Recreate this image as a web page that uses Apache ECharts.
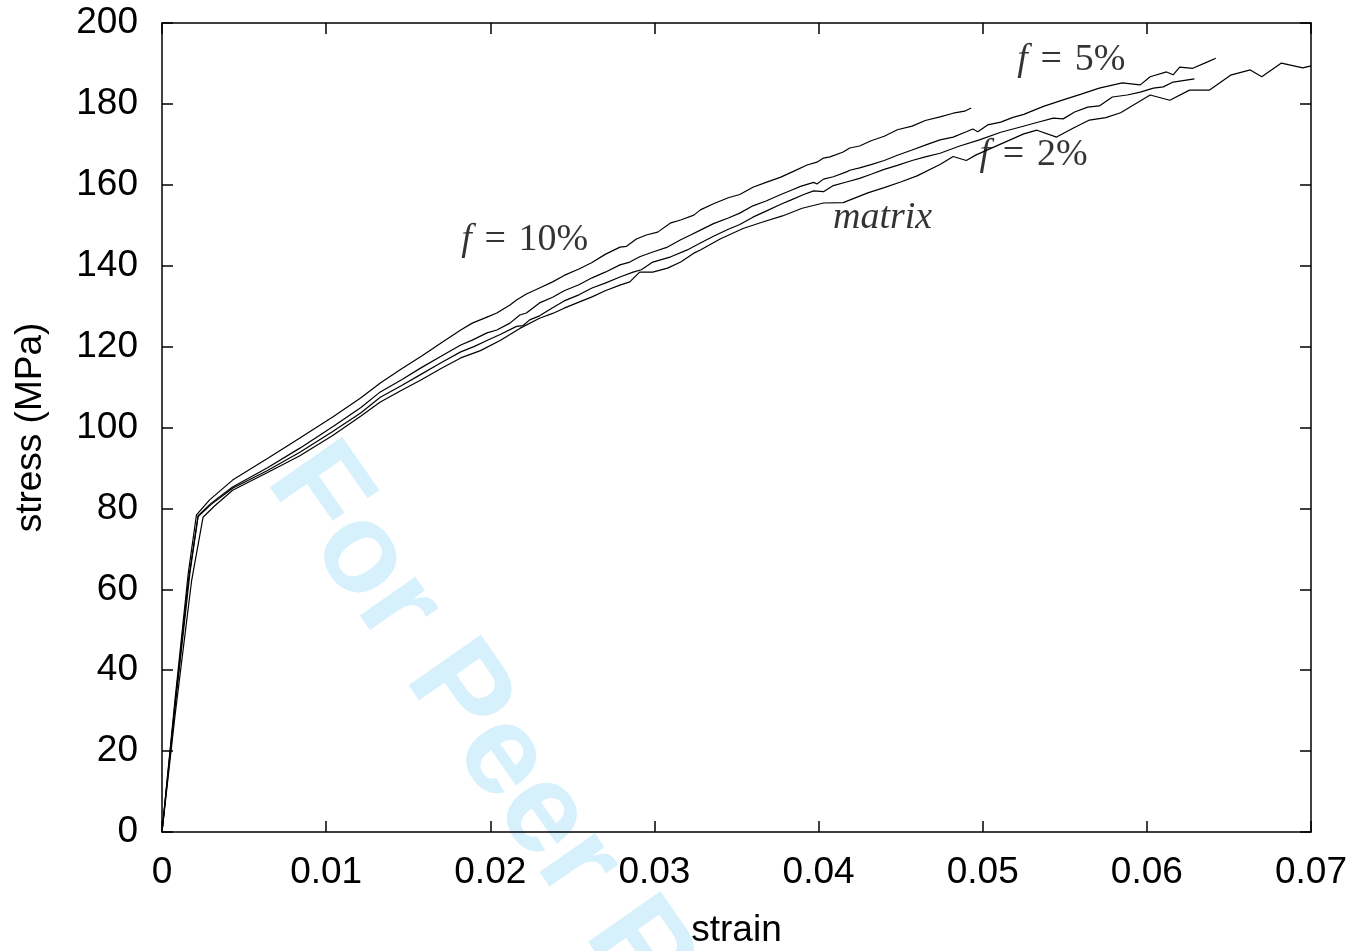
<!DOCTYPE html>
<html>
<head>
<meta charset="utf-8">
<script src="https://cdn.jsdelivr.net/npm/echarts@6/dist/echarts.min.js"></script>
<style>html,body{margin:0;padding:0;background:#fff;}#c{width:1365px;height:951px;}</style>
</head>
<body>
<div id="c"></div>
<script>
// strain ticks / stress ticks
var xTicks = [0, 0.01, 0.02, 0.03, 0.04, 0.05, 0.06, 0.07];
var yTicks = [0, 20, 40, 60, 80, 100, 120, 140, 160, 180, 200];

// f = 10%
var f10 = [[0,0],[0.0008,33],[0.0016,64],[0.0021,78.4],[0.0029,82.1],[0.0043,87.0],[0.0064,92.3],[0.0084,97.4],[0.0104,102.6],[0.0121,107.3],[0.0133,111.0],[0.0146,114.5],[0.0158,117.6],[0.0170,120.9],[0.0182,124.1],[0.0189,125.8],[0.0198,127.3],[0.0204,128.3],[0.0212,130.3],[0.0216,131.5],[0.0222,133.0],[0.0230,134.5],[0.0238,136.0],[0.0245,137.6],[0.0254,139.2],[0.0262,140.8],[0.0270,142.8],[0.0279,144.6],[0.0283,144.8],[0.0289,146.6],[0.0295,147.6],[0.0302,148.3],[0.0310,150.6],[0.0316,151.3],[0.0324,152.5],[0.0328,153.8],[0.0336,155.3],[0.0345,156.8],[0.0352,157.6],[0.0360,159.4],[0.0368,160.6],[0.0377,161.9],[0.0384,163.2],[0.0393,164.9],[0.0399,165.6],[0.0403,166.6],[0.0407,166.9],[0.0415,168.1],[0.0419,169.1],[0.0425,169.6],[0.0432,170.9],[0.0440,172.0],[0.0448,173.6],[0.0457,174.5],[0.0465,175.9],[0.0474,176.8],[0.0482,177.7],[0.0489,178.2],[0.0493,179.0]];

// f = 5%
var f5 = [[0,0],[0.0008,32],[0.0016,62],[0.0022,78.2],[0.0030,81.3],[0.0043,85.3],[0.0064,90.0],[0.0084,94.9],[0.0104,100.2],[0.0121,104.9],[0.0133,108.8],[0.0146,111.8],[0.0158,114.8],[0.0170,117.6],[0.0182,120.4],[0.0189,121.6],[0.0198,123.4],[0.0204,124.1],[0.0212,125.8],[0.0218,127.8],[0.0222,128.3],[0.0230,130.8],[0.0238,132.2],[0.0245,133.8],[0.0254,135.3],[0.0262,137.0],[0.0270,138.4],[0.0279,140.2],[0.0285,140.9],[0.0291,142.2],[0.0299,143.4],[0.0308,144.6],[0.0316,146.4],[0.0322,147.6],[0.0328,148.8],[0.0336,150.4],[0.0345,151.8],[0.0352,153.0],[0.0360,154.8],[0.0368,156.0],[0.0377,157.6],[0.0383,158.6],[0.0389,159.6],[0.0397,160.6],[0.0399,160.2],[0.0403,161.4],[0.0409,162.0],[0.0417,163.2],[0.0419,163.6],[0.0425,164.2],[0.0432,165.0],[0.0440,166.0],[0.0448,167.3],[0.0457,168.6],[0.0465,169.8],[0.0474,171.1],[0.0482,171.8],[0.0490,173.1],[0.0494,173.8],[0.0497,173.1],[0.0503,174.8],[0.0511,175.5],[0.0518,176.6],[0.0525,177.4],[0.0537,179.4],[0.0549,181.0],[0.0560,182.4],[0.0571,183.9],[0.0585,185.2],[0.0596,184.7],[0.0602,186.7],[0.0612,187.9],[0.0616,187.2],[0.0620,189.1],[0.0628,188.8],[0.0637,190.4],[0.0642,191.3]];

// f = 2%
var f2 = [[0,0],[0.0008,31],[0.0017,64],[0.0022,78.0],[0.0030,81.0],[0.0043,85.0],[0.0064,89.3],[0.0084,93.9],[0.0104,99.0],[0.0121,103.6],[0.0133,107.5],[0.0146,110.4],[0.0158,113.2],[0.0170,116.0],[0.0182,118.7],[0.0190,120.0],[0.0198,121.5],[0.0206,123.0],[0.0216,125.0],[0.0220,125.2],[0.0224,126.6],[0.0230,127.6],[0.0238,129.6],[0.0245,131.3],[0.0254,132.8],[0.0262,134.5],[0.0270,135.7],[0.0279,137.2],[0.0287,138.4],[0.0292,139.0],[0.0299,140.9],[0.0310,142.2],[0.0320,143.9],[0.0328,145.6],[0.0336,147.3],[0.0345,149.0],[0.0352,150.2],[0.0360,152.0],[0.0368,153.5],[0.0377,155.2],[0.0383,156.2],[0.0391,157.6],[0.0397,158.5],[0.0403,158.3],[0.0409,159.8],[0.0417,160.7],[0.0425,161.6],[0.0432,162.6],[0.0440,163.8],[0.0448,164.8],[0.0457,166.0],[0.0465,166.9],[0.0474,167.8],[0.0486,169.6],[0.0498,171.1],[0.0511,173.0],[0.0523,174.3],[0.0533,175.4],[0.0543,176.5],[0.0549,176.3],[0.0556,178.0],[0.0564,179.2],[0.0571,179.5],[0.0579,181.7],[0.0588,182.2],[0.0596,182.9],[0.0604,183.9],[0.0610,184.2],[0.0616,185.4],[0.0629,186.2]];

// matrix
var matrix = [[0,0],[0.0008,29],[0.0018,62],[0.0025,77.8],[0.0032,80.6],[0.0043,84.5],[0.0064,88.8],[0.0084,93.0],[0.0104,98.0],[0.0121,102.8],[0.0133,106.3],[0.0146,109.2],[0.0158,111.8],[0.0170,114.6],[0.0182,117.2],[0.0194,119.0],[0.0206,121.5],[0.0218,124.5],[0.0230,127.0],[0.0238,128.2],[0.0245,129.5],[0.0254,131.0],[0.0262,132.3],[0.0270,133.8],[0.0279,135.2],[0.0285,136.0],[0.0291,138.4],[0.0299,138.4],[0.0308,139.4],[0.0316,140.9],[0.0324,143.1],[0.0328,143.9],[0.0340,146.6],[0.0354,149.2],[0.0366,150.8],[0.0378,152.3],[0.0390,154.2],[0.0403,155.5],[0.0415,155.6],[0.0430,158.0],[0.0440,159.3],[0.0450,160.7],[0.0460,162.2],[0.0474,165.0],[0.0482,167.0],[0.0490,166.0],[0.0496,167.4],[0.0505,169.0],[0.0515,170.8],[0.0525,172.6],[0.0533,173.5],[0.0545,171.8],[0.0555,174.0],[0.0565,176.0],[0.0575,176.6],[0.0584,177.8],[0.0602,182.2],[0.0614,180.9],[0.0626,183.4],[0.0638,183.4],[0.0651,187.1],[0.0663,188.4],[0.0670,186.7],[0.0682,190.1],[0.0695,188.9],[0.0700,189.4]];

// curve annotations: [strain, stress, italic part, roman part]
var notes = [
  [0.0221, 146.4, 'f', '\u2004=\u200410%'],
  [0.0554, 190.9, 'f', '\u2004=\u20045%'],
  [0.0531, 167.4, 'f', '\u2004=\u20042%'],
  [0.0439, 151.8, 'matrix', '']
];

var chart = echarts.init(document.getElementById('c'), null, {renderer: 'canvas'});
var axFont = 'Liberation Sans, Arial, Helvetica, sans-serif';
var serif = 'Liberation Serif, Times New Roman, serif';

function xAx(pos, showLabel) {
  return {
    type: 'value', position: pos, min: 0, max: 0.07, interval: 0.01,
    axisLine: {show: true, onZero: false, lineStyle: {color: '#000', width: 1.5}},
    axisTick: {show: true, inside: true, length: 11, lineStyle: {color: '#000', width: 1.5}},
    axisLabel: {show: showLabel, color: '#000', fontSize: 37, fontFamily: axFont, margin: 22,
      formatter: function (v) { var s = xTicks.filter(function (t) { return Math.abs(t - v) < 1e-9; }); return s.length ? String(s[0]) : ''; }},
    splitLine: {show: false},
    name: showLabel ? 'strain' : '', nameLocation: 'middle', nameGap: 80,
    nameTextStyle: {color: '#000', fontSize: 37, fontFamily: axFont}
  };
}
function yAx(pos, showLabel) {
  return {
    type: 'value', position: pos, min: 0, max: 200, interval: 20,
    axisLine: {show: true, onZero: false, lineStyle: {color: '#000', width: 1.5}},
    axisTick: {show: true, inside: true, length: 11, lineStyle: {color: '#000', width: 1.5}},
    axisLabel: {show: showLabel, color: '#000', fontSize: 37, fontFamily: axFont, margin: 24},
    splitLine: {show: false},
    name: showLabel ? 'stress (MPa)' : '', nameLocation: 'middle', nameGap: 113, nameRotate: 90,
    nameTextStyle: {color: '#000', fontSize: 37, fontFamily: axFont}
  };
}

function curve(name, data) {
  return {name: name, type: 'line', data: data, showSymbol: false, symbol: 'none', smooth: false,
    lineStyle: {color: '#000', width: 1.2}, z: 5, animation: false, silent: true};
}

var option = {
  backgroundColor: '#fff',
  animation: false,
  graphic: [{
    type: 'text', x: 294, y: 460, rotation: -55 * Math.PI / 180, z: -10, silent: true,
    style: {text: 'For Peer Review', fontSize: 128, fontWeight: 'bold', fontFamily: axFont,
      fill: '#d6f0fc', align: 'left', verticalAlign: 'middle'}
  }],
  grid: {left: 162, right: 54, top: 23, bottom: 119, containLabel: false, outerBoundsMode: 'none'},
  xAxis: [xAx('bottom', true), xAx('top', false)],
  yAxis: [yAx('left', true), yAx('right', false)],
  series: [
    curve('f = 10%', f10),
    curve('f = 5%', f5),
    curve('f = 2%', f2),
    curve('matrix', matrix),
    {
      type: 'scatter', symbolSize: 0, silent: true, z: 6,
      data: notes.map(function (n) { return {value: [n[0], n[1]], it: n[2], rm: n[3]}; }),
      label: {
        show: true, position: 'inside', color: '#000',
        formatter: function (p) { return '{i|' + p.data.it + '}' + (p.data.rm ? '{r|' + p.data.rm + '}' : ''); },
        rich: {
          i: {fontStyle: 'italic', fontFamily: serif, fontSize: 38, color: '#000'},
          r: {fontFamily: serif, fontSize: 38, color: '#000'}
        }
      }
    }
  ]
};
chart.setOption(option);
</script>
</body>
</html>
